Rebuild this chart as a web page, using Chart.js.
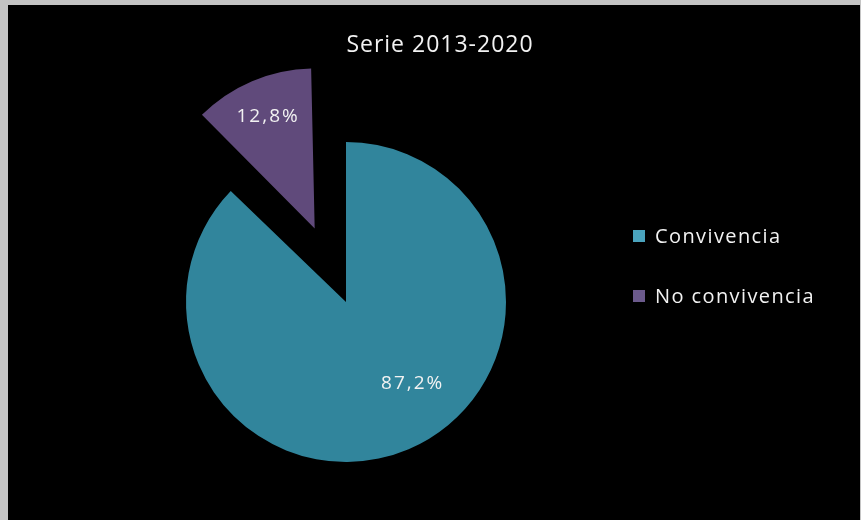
<!DOCTYPE html>
<html>
<head>
<meta charset="utf-8">
<script src="https://cdn.jsdelivr.net/npm/chart.js@4"></script>
<style>
  html, body { margin: 0; padding: 0; }
  body { width: 861px; height: 520px; background: #c4c4c4; position: relative; overflow: hidden; }
  #frame { position: absolute; left: 8px; top: 5px; width: 852px; height: 515px; background: #000; }
  #chart { position: absolute; left: 0; top: 0; }
  .title { position: absolute; left: 0; width: 880px; top: 27px; text-align: center;
           color: #f2f2f2; font: 23px "Open Sans", sans-serif; letter-spacing: 1px; }
  .legend { position: absolute; left: 633px; top: 222px; color: #f2f2f2;
            font: 20px "Open Sans", sans-serif; letter-spacing: 1.4px; }
  .legend div { height: 60px; display: flex; align-items: flex-start; }
  .legend span.box { display: inline-block; width: 12px; height: 12px; margin: 8px 10px 0 0; }
</style>
</head>
<body>
<div id="frame">
  <canvas id="chart" width="852" height="515"></canvas>
</div>
<div class="title" id="title"></div>
<div class="legend" id="legend"></div>
<script>
const title = "Serie 2013-2020";
const labels = ["Convivencia", "No convivencia"];
const values = [87.2, 12.8];
const colors = ["#31859c", "#604a7b"];
const legendColors = ["#4aa3bd", "#6b5a8c"];

// exploded slice: chart.js moves an arc by offset / 4
const explode = [0, 320];

// where each percentage sits inside its slice
const labelSpot = [
    { along: 0.45, ratio: 0.656 },
    { along: 0.5, ratio: 0.76 }
];

document.getElementById("title").textContent = title;

const legendEl = document.getElementById("legend");
labels.forEach((name, i) => {
    const row = document.createElement("div");
    row.innerHTML = `<span class="box" style="background:${legendColors[i]}"></span><span>${name}</span>`;
    legendEl.appendChild(row);
});

// keep the exploded slice the same size as the rest
const keepRadius = {
    id: "keepRadius",
    afterDatasetsUpdate(chart) {
        chart.getDatasetMeta(0).data.forEach(arc => {
            const off = (arc.options.offset || 0) / 4;
            const fix = 1 - Math.sin(Math.min(Math.PI, arc.circumference || 0));
            arc.outerRadius -= off * fix;
            arc.baseRadius = arc.outerRadius + off * fix;
        });
    }
};

const percentLabels = {
    id: "percentLabels",
    afterDatasetsDraw(chart) {
        const ctx = chart.ctx;
        const meta = chart.getDatasetMeta(0);
        ctx.save();
        ctx.fillStyle = "#f2f2f2";
        ctx.font = '19px "Open Sans", sans-serif';
        ctx.letterSpacing = "2px";
        ctx.textAlign = "center";
        ctx.textBaseline = "middle";
        meta.data.forEach((arc, i) => {
            const off = (arc.options.offset || 0) / 4;
            const mid = (arc.startAngle + arc.endAngle) / 2;
            const a = arc.startAngle + (arc.endAngle - arc.startAngle) * labelSpot[i].along;
            const cx = arc.x + Math.cos(mid) * off;
            const cy = arc.y + Math.sin(mid) * off;
            const r = arc.baseRadius * labelSpot[i].ratio;
            const text = values[i].toFixed(1).replace(".", ",") + "%";
            ctx.fillText(text, cx + Math.cos(a) * r + 1, cy + Math.sin(a) * r);
        });
        ctx.restore();
    }
};

new Chart(document.getElementById("chart"), {
    type: "pie",
    data: {
        labels,
        datasets: [{
            data: values,
            backgroundColor: colors,
            borderWidth: 0,
            offset: explode,
            clip: false
        }]
    },
    options: {
        responsive: false,
        animation: false,
        radius: 160,
        layout: { padding: { left: 20, right: 196, top: 99, bottom: 20 } },
        plugins: {
            legend: { display: false },
            title: { display: false },
            tooltip: { enabled: false }
        }
    },
    plugins: [keepRadius, percentLabels]
});
</script>
</body>
</html>
